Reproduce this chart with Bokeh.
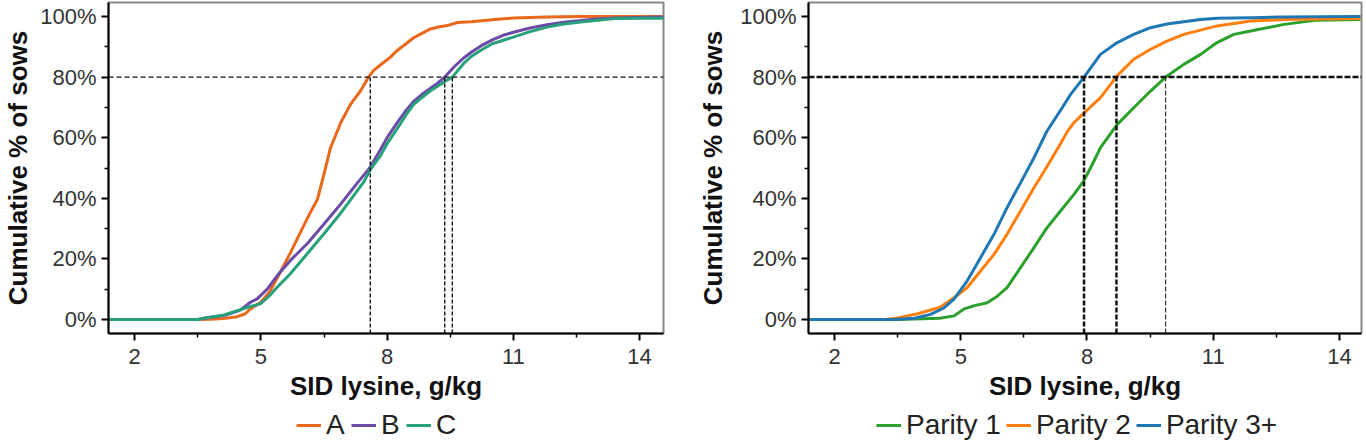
from bokeh.plotting import figure
from bokeh.models import (Range1d, FixedTicker, PrintfTickFormatter, Legend, LegendItem, Span)
from bokeh.layouts import row, column
from bokeh.embed import file_html
from bokeh.resources import INLINE

# ---------------- data ----------------
x_ticks = [2, 5, 8, 11, 14]
x_minor = [3.5, 6.5, 9.5, 12.5]
y_ticks = [0, 20, 40, 60, 80, 100]
y_minor = [10, 30, 50, 70, 90]
threshold = 80

# Left panel: groups A, B, C
a_x = [1.4, 3.5, 3.8, 4.1, 4.4, 4.63, 4.75, 5.0, 5.2, 5.4, 5.7, 6.0, 6.2, 6.34, 6.5, 6.65,
       6.9, 7.13, 7.37, 7.56, 7.68, 7.84, 8.08, 8.24, 8.45, 8.63, 8.85, 9.03, 9.25, 9.43,
       9.67, 10.0, 10.5, 11.0, 11.8, 12.6, 13.5, 14.6]
a_y = [0, 0, 0.1, 0.3, 0.8, 1.9, 3.5, 5.7, 9.0, 14.0, 22.0, 30.5, 36.0, 39.5, 48.0, 56.5,
       65.0, 71.0, 75.5, 80.0, 82.2, 84.0, 86.6, 88.8, 91.0, 93.0, 94.6, 95.9, 96.6, 97.0,
       98.0, 98.3, 98.9, 99.5, 99.8, 100, 100, 100]

b_x = [1.4, 3.5, 3.6, 4.12, 4.5, 4.75, 4.91, 5.15, 5.39, 5.7, 6.1, 6.5, 6.89, 7.29,
       7.6, 7.84, 8.0, 8.24, 8.45, 8.63, 8.85, 9.03, 9.2, 9.37, 9.6, 9.82, 10.0, 10.22,
       10.5, 10.76, 11.0, 11.4, 11.8, 12.2, 12.6, 13.0, 13.4, 14.0, 14.6]
b_y = [0, 0, 0.3, 1.3, 3.0, 5.7, 6.8, 10.0, 14.5, 19.5, 25.0, 31.5, 38.0, 45.0,
       50.3, 56.0, 60.0, 65.0, 69.0, 72.0, 74.5, 76.3, 78.0, 80.0, 83.5, 86.3, 88.2, 90.2,
       92.3, 93.8, 94.8, 96.2, 97.3, 98.1, 98.7, 99.2, 99.5, 99.7, 99.8]

c_x = [1.4, 3.5, 3.6, 4.12, 4.5, 4.75, 4.99, 5.2, 5.39, 5.7, 6.1, 6.5, 6.89, 7.13, 7.45,
       7.6, 7.84, 8.0, 8.24, 8.45, 8.63, 8.85, 9.03, 9.2, 9.4, 9.55, 9.82, 10.0, 10.22,
       10.5, 11.0, 11.4, 11.8, 12.2, 12.6, 13.0, 13.4, 14.0, 14.6]
c_y = [0, 0, 0.3, 1.5, 3.2, 4.3, 5.2, 7.8, 10.7, 15.1, 21.7, 28.3, 35.0, 39.5, 45.5,
       49.5, 54.0, 58.0, 63.0, 67.5, 71.0, 73.5, 75.5, 77.0, 78.8, 80.0, 84.5, 86.8, 88.8,
       91.0, 93.2, 95.0, 96.5, 97.5, 98.2, 98.8, 99.3, 99.4, 99.4]

left_cut_x = [7.6, 9.37, 9.55]

# Right panel: parity groups
p1_x = [1.4, 3.5, 4.5, 4.84, 5.07, 5.3, 5.63, 5.85, 6.1, 6.42, 6.74, 7.05, 7.37, 7.69,
        7.92, 8.12, 8.32, 8.72, 9.11, 9.51, 9.87, 10.3, 10.7, 11.09, 11.49, 11.89, 12.68,
        13.47, 14.5]
p1_y = [0, 0, 0.4, 1.2, 3.4, 4.5, 5.5, 7.5, 10.5, 17.1, 23.7, 30.3, 35.8, 41.3,
        45.7, 51.0, 56.7, 64.4, 69.9, 75.4, 80.0, 84.2, 87.5, 91.4, 94.1, 95.2, 97.4,
        98.8, 99.0]

p2_x = [1.4, 3.2, 3.5, 3.73, 4.0, 4.2, 4.5, 4.84, 5.15, 5.47, 5.79, 6.1, 6.42, 6.74,
        7.05, 7.37, 7.53, 7.69, 7.92, 8.32, 8.72, 9.11, 9.51, 9.9, 10.3, 11.09, 11.89,
        12.68, 13.5, 14.5]
p2_y = [0, 0, 0.5, 1.2, 2.0, 2.8, 4.0, 7.2, 10.5, 16.0, 21.5, 28.1, 35.8, 43.5,
        50.5, 58.0, 62.0, 65.0, 68.0, 73.2, 80.5, 85.9, 89.2, 91.9, 94.1, 96.9, 98.5,
        99.0, 99.2, 99.3]

p3_x = [1.4, 3.4, 3.9, 4.28, 4.6, 4.84, 5.15, 5.47, 5.79, 6.1, 6.42, 6.74, 7.05, 7.37,
        7.61, 7.93, 8.32, 8.72, 9.11, 9.51, 9.9, 10.3, 10.7, 11.09, 11.9, 12.7, 13.5, 14.5]
p3_y = [0, 0, 0.4, 1.7, 3.8, 6.7, 12.7, 20.4, 28.1, 36.9, 45.1, 53.4, 62.2, 69.0,
        74.3, 80.0, 87.5, 91.4, 94.1, 96.3, 97.5, 98.3, 99.0, 99.4, 99.6, 99.8, 99.9, 100]

right_cut_x = [7.93, 8.7, 9.87]

left_labels = ["A", "B", "C"]
left_colors = ["#e8681c", "#6b4ba6", "#27a07c"]
right_labels = ["Parity 1", "Parity 2", "Parity 3+"]
right_colors = ["#2ca02c", "#ff7f0e", "#1f77b4"]
x_title = "SID lysine, g/kg"
y_title = "Cumulative % of sows"

FONT = "Liberation Sans"
Y0, Y1 = -4.62, 104.62
FIG_W = 683
MAIN_H = 409
LEG_H = 32


def make_fig(xr, border_left, border_right):
    p = figure(width=FIG_W, height=MAIN_H, x_range=Range1d(*xr),
               y_range=Range1d(Y0, Y1),
               output_backend="svg", toolbar_location=None,
               min_border_left=border_left, min_border_right=border_right,
               min_border_top=2, min_border_bottom=76)
    p.grid.visible = False
    p.outline_line_color = "#888888"
    p.outline_line_width = 2
    p.background_fill_color = "white"
    for ax in (p.xaxis[0], p.yaxis[0]):
        ax.axis_line_color = "black"
        ax.axis_line_width = 2
        ax.major_tick_in = 0
        ax.major_tick_out = 7
        ax.minor_tick_in = 0
        ax.minor_tick_out = 4
        ax.major_tick_line_width = 2
        ax.minor_tick_line_width = 1.5
        ax.major_label_text_font = FONT
        ax.major_label_text_font_size = "22px"
        ax.major_label_text_color = "#333333"
        ax.axis_label_text_font = FONT
        ax.axis_label_text_font_size = "26px"
        ax.axis_label_text_font_style = "bold"
        ax.axis_label_text_color = "#111111"
    p.xaxis[0].ticker = FixedTicker(ticks=x_ticks, minor_ticks=x_minor)
    p.yaxis[0].ticker = FixedTicker(ticks=y_ticks, minor_ticks=y_minor)
    p.yaxis[0].formatter = PrintfTickFormatter(format="%d%%")
    p.xaxis[0].axis_label = x_title
    p.yaxis[0].axis_label = y_title
    p.xaxis[0].major_label_standoff = 8
    p.xaxis[0].axis_label_standoff = 4
    p.yaxis[0].major_label_standoff = 5
    return p


def legend_fig(series, labels, colors, x_off):
    # legend strip: the same series drawn far outside its visible range,
    # only their legend entries are seen
    f = figure(width=FIG_W, height=LEG_H, x_range=Range1d(100, 101), y_range=Range1d(0, 1),
               output_backend="svg", toolbar_location=None,
               x_axis_location=None, y_axis_location=None,
               min_border_left=0, min_border_right=0, min_border_top=0, min_border_bottom=0)
    f.grid.visible = False
    f.outline_line_color = None
    rs = [f.line(sx, sy, line_color=c, line_width=3) for (sx, sy), c in zip(series, colors)]
    items = [LegendItem(label=l, renderers=[r]) for l, r in zip(labels, rs)]
    lg = Legend(items=items, orientation="horizontal", location=(x_off, 0),
                glyph_width=25, glyph_height=20, label_standoff=5, spacing=5,
                padding=0, margin=0, border_line_color=None, background_fill_alpha=0,
                label_text_font=FONT, label_text_font_size="28px",
                label_text_color="#222222")
    f.add_layout(lg, "center")
    return f


# ---------------- left panel ----------------
pl = make_fig((1.377, 14.57), 108, 20)
pl.yaxis[0].axis_label_standoff = 4
pl.line(a_x, a_y, line_color=left_colors[0], line_width=3)
pl.line(b_x, b_y, line_color=left_colors[1], line_width=3)
pl.line(c_x, c_y, line_color=left_colors[2], line_width=3)
pl.add_layout(Span(location=threshold, dimension="width", line_color="#111111",
                   line_width=1.3, line_dash="5 3"))
pl.segment(x0=left_cut_x, y0=[Y0] * 3, x1=left_cut_x, y1=[threshold] * 3,
           line_color="#111111", line_width=1.4, line_dash="4 2")
ll = legend_fig([(a_x, a_y), (b_x, b_y), (c_x, c_y)], left_labels, left_colors, 188)

# ---------------- right panel ----------------
pr = make_fig((1.382, 14.523), 125, 5)
pr.yaxis[0].axis_label_standoff = 9
pr.line(p1_x, p1_y, line_color=right_colors[0], line_width=3)
pr.line(p2_x, p2_y, line_color=right_colors[1], line_width=3)
pr.line(p3_x, p3_y, line_color=right_colors[2], line_width=3)
pr.add_layout(Span(location=threshold, dimension="width", line_color="#111111",
                   line_width=2.5, line_dash="6 2"))
pr.segment(x0=right_cut_x, y0=[Y0] * 3, x1=right_cut_x, y1=[threshold] * 3,
           line_color="#111111", line_width=[2.5, 2.5, 1.0], line_dash="5 2")
lr = legend_fig([(p1_x, p1_y), (p2_x, p2_y), (p3_x, p3_y)], right_labels, right_colors, 68)

layout = row(column(pl, ll), column(pr, lr))
open("out.html", "w").write(file_html(layout, INLINE))
